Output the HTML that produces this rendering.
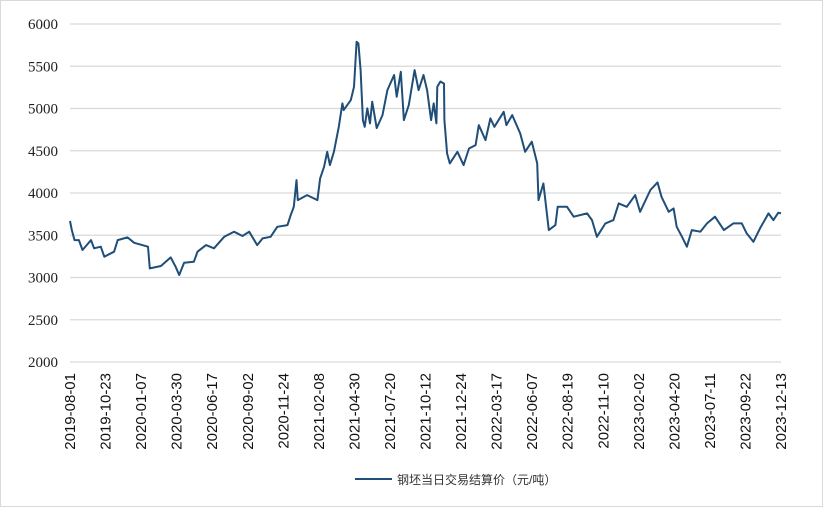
<!DOCTYPE html>
<html><head><meta charset="utf-8"><style>
html,body{margin:0;padding:0;background:#fff;}
#wrap{position:relative;width:825px;height:509px;overflow:hidden;}
</style></head><body>
<div id="wrap">
<svg id="chart" width="825" height="509">
<rect x="0.5" y="0.5" width="822" height="506" fill="#fff" stroke="#d9d9d9"/>
<g id="grid"></g>
<g id="yticks"></g>
<g id="xticks"></g>
<path id="series" fill="none" stroke="#1f4e79" stroke-width="2" stroke-linejoin="round"/>
<g>
<line x1="355" y1="479" x2="392" y2="479" stroke="#1f4e79" stroke-width="2"/>
<text x="397" y="484" font-size="12" font-family="'Liberation Sans','Noto Sans CJK SC',sans-serif" fill="#333">钢坯当日交易结算价（元/吨）</text>
</g>
</svg>
</div>
<script>
const yTicks=[2000,2500,3000,3500,4000,4500,5000,5500,6000];
const xLabels=["2019-08-01","2019-10-23","2020-01-07","2020-03-30","2020-06-17","2020-09-02","2020-11-24","2021-02-08","2021-04-30","2021-07-20","2021-10-12","2021-12-24","2022-03-17","2022-06-07","2022-08-19","2022-11-10","2023-02-02","2023-04-20","2023-07-11","2023-09-22","2023-12-13"];
const dayOffsets=[0,4,10,20,28,47,54,69,77,99,107,129,144,175,179,204,226,237,245,256,278,286,305,323,346,368,387,402,420,432,450,465,488,495,502,508,511,532,555,561,570,577,583,592,603,611,614,630,637,643,647,652,657,661,667,673,678,688,701,712,727,733,742,749,760,773,782,793,801,810,816,822,824,831,839,840,846,852,869,883,895,910,917,932,943,952,973,979,992,1010,1021,1036,1048,1051,1062,1074,1089,1094,1115,1130,1160,1171,1182,1201,1219,1231,1249,1268,1279,1302,1318,1327,1343,1354,1361,1373,1384,1395,1414,1429,1447,1467,1488,1507,1518,1533,1548,1567,1578,1589,1595];
const prices=[3669,3562,3443,3443,3325,3443,3345,3364,3246,3305,3443,3475,3411,3364,3108,3136,3238,3128,3029,3175,3187,3305,3384,3345,3482,3542,3491,3542,3384,3463,3482,3600,3620,3739,3837,4153,3916,3975,3916,4171,4311,4488,4330,4488,4784,5060,4981,5100,5257,5789,5770,5454,4863,4784,5001,4824,5080,4768,4922,5218,5396,5139,5434,4863,5041,5454,5218,5396,5218,4863,5060,4824,5257,5320,5295,4863,4468,4350,4488,4330,4527,4567,4804,4626,4883,4784,4961,4804,4922,4705,4488,4607,4350,3916,4113,3561,3620,3837,3837,3719,3758,3679,3482,3640,3679,3877,3837,3975,3778,4035,4126,3955,3778,3818,3600,3482,3364,3561,3542,3640,3719,3561,3640,3640,3522,3423,3581,3758,3679,3767,3758];
const X0=70,X1=781,Y0=362,Y1=24,DMAX=1595,VMIN=2000,VMAX=6000;
const xs=d=>X0+(X1-X0)*d/DMAX;
const ys=v=>Y0-(Y0-Y1)*(v-VMIN)/(VMAX-VMIN);
const NS="http://www.w3.org/2000/svg";
const grid=document.getElementById('grid'),yt=document.getElementById('yticks'),xt=document.getElementById('xticks');
yTicks.forEach(v=>{
 const l=document.createElementNS(NS,'line');
 l.setAttribute('x1',X0);l.setAttribute('x2',X1);l.setAttribute('y1',ys(v));l.setAttribute('y2',ys(v));
 l.setAttribute('stroke','#d9d9d9');l.setAttribute('stroke-width','1.3');
 
 
 grid.appendChild(l);
 const t=document.createElementNS(NS,'text');
 t.setAttribute('x',58);t.setAttribute('y',ys(v)+5);t.setAttribute('text-anchor','end');
 t.setAttribute('font-family',"'Liberation Serif',serif");t.setAttribute('font-size','15');t.setAttribute('fill','#222');
 t.textContent=v;
 
 
 yt.appendChild(t);
});
xLabels.forEach((s,i)=>{
 const x=X0+(X1-X0)*i/(xLabels.length-1);
 const t=document.createElementNS(NS,'text');
 t.setAttribute('transform','translate('+(x+5)+',373) rotate(-90)');
 t.setAttribute('text-anchor','end');
 t.setAttribute('font-family',"'Liberation Sans',sans-serif");t.setAttribute('font-size','15');t.setAttribute('fill','#111');
 t.textContent=s;
 
 
 xt.appendChild(t);
});
let d='';
dayOffsets.forEach((o,i)=>{d+=(i?'L':'M')+xs(o).toFixed(1)+' '+ys(prices[i]).toFixed(1);});
document.getElementById('series').setAttribute('d',d);
</script>
</body></html>
